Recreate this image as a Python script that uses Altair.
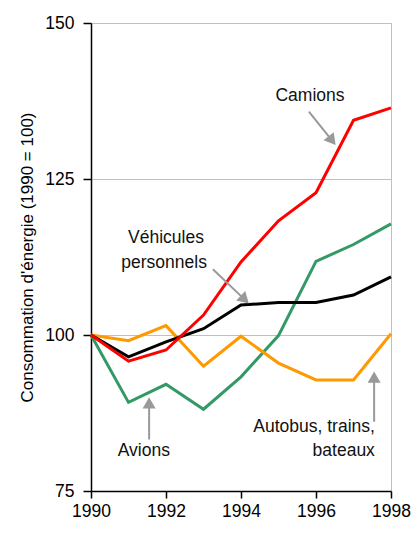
import altair as alt
import pandas as pd

years = [1990, 1991, 1992, 1993, 1994, 1995, 1996, 1997, 1998]
camions = [100, 95.8, 97.6, 103.2, 111.7, 118.3, 122.8, 134.4, 136.4]
vehicules = [100, 96.5, 98.9, 101.0, 104.8, 105.2, 105.2, 106.4, 109.3]
avions = [100, 89.2, 92.1, 88.1, 93.3, 99.9, 111.8, 114.5, 117.8]
autobus = [100, 99.1, 101.5, 95.0, 99.8, 95.5, 92.8, 92.8, 100.2]

series_names = ["Avions", "Autobus", "Véhicules", "Camions"]
series_values = [avions, autobus, vehicules, camions]
series_colors = ["#339966", "#ff9900", "#000000", "#ff0000"]

# annotation labels (data units)
label_text = ["Camions", "Véhicules", "personnels", "Avions", "Autobus, trains,", "bateaux"]
label_x = [1995.84, 1992.0, 1991.95, 1991.41, 1997.57, 1997.57]
label_y = [138.3, 115.5, 111.5, 81.35, 85.2, 81.35]
label_align = ["center", "center", "center", "center", "right", "right"]

# arrows: start -> head centre (data units), head angle
arrow_x1 = [1995.81, 1993.25, 1991.55, 1997.55]
arrow_y1 = [135.8, 110.55, 83.25, 86.1]
arrow_x2 = [1996.43, 1994.10, 1991.55, 1997.55]
arrow_y2 = [131.15, 105.67, 89.13, 93.25]
arrow_angle = [141.5, 134, 0, 0]

rows = []
for name, vals in zip(series_names, series_values):
    for yr, v in zip(years, vals):
        rows.append({"year": yr, "value": v, "series": name})
df = pd.DataFrame(rows)

lab = pd.DataFrame({"x": label_x, "y": label_y, "t": label_text, "a": label_align})
arr = pd.DataFrame({"x": arrow_x1, "y": arrow_y1, "x2": arrow_x2, "y2": arrow_y2, "ang": arrow_angle})

FONT = "Liberation Sans"

xscale = alt.Scale(domain=[1990, 1998], nice=False, zero=False)
yscale = alt.Scale(domain=[75, 150], nice=False, zero=False)

lines = alt.Chart(df).mark_line(strokeWidth=3, strokeJoin="miter").encode(
    x=alt.X("year:Q", scale=xscale,
            axis=alt.Axis(title=None, values=years, format="d", grid=False,
                          labelExpr="datum.value % 2 == 0 ? datum.label : ''",
                          tickSize=7, labelPadding=4, labelFontSize=17.5,
                          labelFont=FONT, labelColor="#000", domainColor="#000",
                          tickColor="#000", domainWidth=1.5, tickWidth=1.5,
                          labelFlush=False)),
    y=alt.Y("value:Q", scale=yscale,
            axis=alt.Axis(title="Consommation d'énergie (1990 = 100)",
                          values=[75, 100, 125, 150], grid=True, gridColor="#c0c0c0",
                          gridWidth=1, tickSize=8, labelPadding=9, labelFontSize=17.5,
                          labelFont=FONT, labelColor="#000", domainColor="#000",
                          tickColor="#000", domainWidth=1.5, tickWidth=1.5,
                          titleFont=FONT, titleFontSize=17, titleFontWeight="normal",
                          titleColor="#000", titleX=-64, titleY=234,
                          titleAngle=270, titleAlign="center", titleBaseline="middle")),
    color=alt.Color("series:N", scale=alt.Scale(domain=series_names, range=series_colors),
                    legend=None),
    detail="series:N",
    order=alt.Order("year:Q"),
)

shafts = alt.Chart(arr).mark_rule(color="#999999", strokeWidth=2).encode(
    x=alt.X("x:Q", scale=xscale), y=alt.Y("y:Q", scale=yscale),
    x2="x2:Q", y2="y2:Q")

heads = alt.Chart(arr).mark_point(shape="triangle-up", filled=True, size=170,
                                  color="#999999", opacity=1).encode(
    x=alt.X("x2:Q", scale=xscale), y=alt.Y("y2:Q", scale=yscale),
    angle=alt.Angle("ang:Q", scale=None))

texts_c = alt.Chart(lab[lab.a == "center"]).mark_text(
    font=FONT, fontSize=17.5, color="#111", align="center", baseline="middle").encode(
    x=alt.X("x:Q", scale=xscale), y=alt.Y("y:Q", scale=yscale), text="t:N")

texts_r = alt.Chart(lab[lab.a == "right"]).mark_text(
    font=FONT, fontSize=17.5, color="#111", align="right", baseline="middle").encode(
    x=alt.X("x:Q", scale=xscale), y=alt.Y("y:Q", scale=yscale), text="t:N")

chart = alt.layer(lines, shafts, heads, texts_c, texts_r).properties(
    width=300, height=468,
    autosize=alt.AutoSizeParams(type="none"),
    padding={"left": 83, "top": 15, "right": 21, "bottom": 35},
    background="white",
).configure_view(stroke="#c0c0c0", strokeWidth=1)

chart.save("out.html", embed_options={"renderer": "svg", "actions": False})
